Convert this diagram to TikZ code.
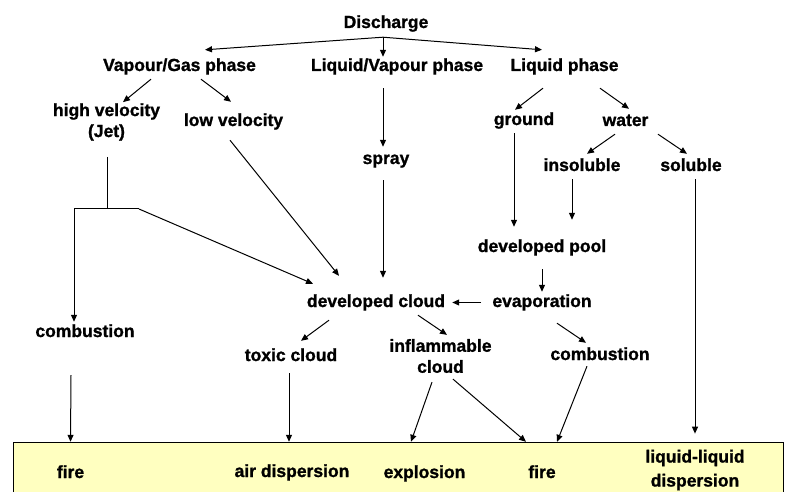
\documentclass[tikz,border=0pt]{standalone}
\usepackage{fontspec}
\setmainfont{Liberation Sans}[BoldFeatures={FakeBold=1.2}]
\usetikzlibrary{arrows.meta}
\definecolor{bandyellow}{HTML}{FFFFC0}
\tikzset{
  lbl/.style={font=\bfseries\fontsize{17.5}{20}\selectfont, inner sep=4pt,
    text height=13pt, text depth=4pt, anchor=base},
  lbl2/.style={font=\bfseries\fontsize{17.5}{21}\selectfont, inner sep=4pt,
    align=center},
  arr/.style={-{Triangle[length=7pt,width=6pt]}, line width=1pt},
  ln/.style={line width=1pt}
}
\begin{document}
\begin{tikzpicture}[x=1pt,y=-1pt]
  \useasboundingbox (0,0) rectangle (785,492);
  % outcome band
  \node[draw, fill=bandyellow, line width=0.6pt, minimum width=770pt,
    minimum height=60pt, anchor=north west, inner sep=0pt] (band) at (13,442) {};
  % source and phases
  \node[lbl] (disch) at (386,28) {Discharge};
  \node[lbl] (vg) at (179.5,71) {Vapour/Gas phase};
  \node[lbl] (lvp) at (397,71) {Liquid/Vapour phase};
  \node[lbl] (lp) at (564.5,71) {Liquid phase};
  \node[lbl2] (hv) at (106.5,122) {high velocity\\(Jet)};
  \node[lbl] (lv) at (233.5,126) {low velocity};
  \node[lbl] (spray) at (386,164) {spray};
  \node[lbl] (ground) at (524,125) {ground};
  \node[lbl] (water) at (625.5,126) {water};
  \node[lbl] (insol) at (582,171) {insoluble};
  \node[lbl] (sol) at (691,171) {soluble};
  \node[lbl] (pool) at (542,252) {developed pool};
  \node[lbl] (evap) at (542,307) {evaporation};
  \node[lbl] (cloud) at (376,307) {developed cloud};
  \node[lbl] (combA) at (85,337) {combustion};
  \node[lbl] (toxic) at (291,361) {toxic cloud};
  \node[lbl2] (infl) at (440.5,356) {inflammable\\cloud};
  \node[lbl] (combB) at (600,360) {combustion};
  % outcomes
  \node[lbl] (fireA) at (70.5,478) {fire};
  \node[lbl] (air) at (292,477) {air dispersion};
  \node[lbl] (expl) at (424.5,478) {explosion};
  \node[lbl] (fireB) at (542,478) {fire};
  \node[lbl2, font=\bfseries\fontsize{17.5}{24}\selectfont] (lld) at (695,470) {liquid-liquid\\dispersion};
  % jet split
  \coordinate (dsplit) at ([xshift=-3pt,yshift=-1pt]disch.south);
  \coordinate (jet) at (107,209);
  \coordinate (jetL) at (74,209);
  \coordinate (jetR) at (139,209);

  \draw[arr] (dsplit) -- ([xshift=25.5pt,yshift=4pt]vg.north);
  \draw[arr] (dsplit) -- ([xshift=-14pt,yshift=-3pt]lvp.north);
  \draw[arr] (dsplit) -- ([xshift=-22.5pt,yshift=4pt]lp.north);
  \draw[arr] ([xshift=-28.5pt]vg.south) -- ([xshift=16.5pt,yshift=-3pt]hv.north);
  \draw[arr] ([xshift=21.5pt]vg.south) -- ([xshift=-2.5pt,yshift=7pt]lv.north);
  \draw[arr] ([xshift=-14pt,yshift=-9pt]lvp.south) -- ([xshift=-3pt]spray.north);
  \draw[arr] ([xshift=-21.5pt,yshift=-9pt]lp.south) -- ([xshift=-9pt,yshift=-2pt]ground.north);
  \draw[arr] ([xshift=35.5pt,yshift=-9pt]lp.south) -- ([xshift=3.5pt]water.north);
  \draw[arr] ([xshift=-10.5pt]water.south) -- ([xshift=5pt]insol.north);
  \draw[arr] ([xshift=32.5pt]water.south) -- ([xshift=-4pt]sol.north);
  \draw[arr] ([xshift=-10pt]ground.south) -- ([xshift=-28pt,yshift=8pt]pool.north);
  \draw[arr] ([xshift=-10pt]insol.south) -- ([xshift=30pt,yshift=15pt]pool.north);
  \draw[arr] ([xshift=4pt]sol.south) -- ([yshift=12pt]lld.north);
  \draw[arr] ([yshift=-9pt]pool.south) -- ([yshift=-2pt]evap.north);
  \draw[arr] ([xshift=-7pt]evap.west) -- ([xshift=3pt]cloud.east);
  \draw[ln] ([xshift=0.5pt,yshift=-12pt]hv.south) -- (jet);
  \draw[ln] (jetL) -- (jetR);
  \draw[arr] (jetL) -- ([xshift=-11pt,yshift=-2pt]combA.north);
  \draw[arr] (jetR) -- ([xshift=-63pt,yshift=6pt]cloud.north);
  \draw[arr] ([xshift=-3.5pt,yshift=-6pt]lv.south) -- ([xshift=-37pt,yshift=14pt]cloud.north);
  \draw[arr] ([xshift=-3pt,yshift=-8pt]spray.south) -- ([xshift=7pt,yshift=12pt]cloud.north);
  \draw[arr] ([xshift=-47pt,yshift=-5pt]cloud.south) -- ([xshift=10pt,yshift=3pt]toxic.north);
  \draw[arr] ([xshift=42pt]cloud.south) -- ([xshift=6.5pt]infl.north);
  \draw[arr] ([xshift=15pt,yshift=-8pt]evap.south) -- ([xshift=-14pt]combB.north);
  \draw[arr] ([xshift=-14pt,yshift=-30pt]combA.south) -- ([yshift=19pt]fireA.north);
  \draw[arr] ([xshift=-2pt,yshift=-4pt]toxic.south) -- ([xshift=-3pt,yshift=18pt]air.north);
  \draw[arr] ([xshift=-8.5pt,yshift=-5pt]infl.south) -- ([xshift=-13.5pt,yshift=19pt]expl.north);
  \draw[arr] ([xshift=12.5pt,yshift=-2pt]infl.south) -- ([xshift=-16pt,yshift=19pt]fireB.north);
  \draw[arr] ([xshift=-13pt,yshift=2pt]combB.south) -- ([xshift=15pt,yshift=19pt]fireB.north);
\end{tikzpicture}
\end{document}
